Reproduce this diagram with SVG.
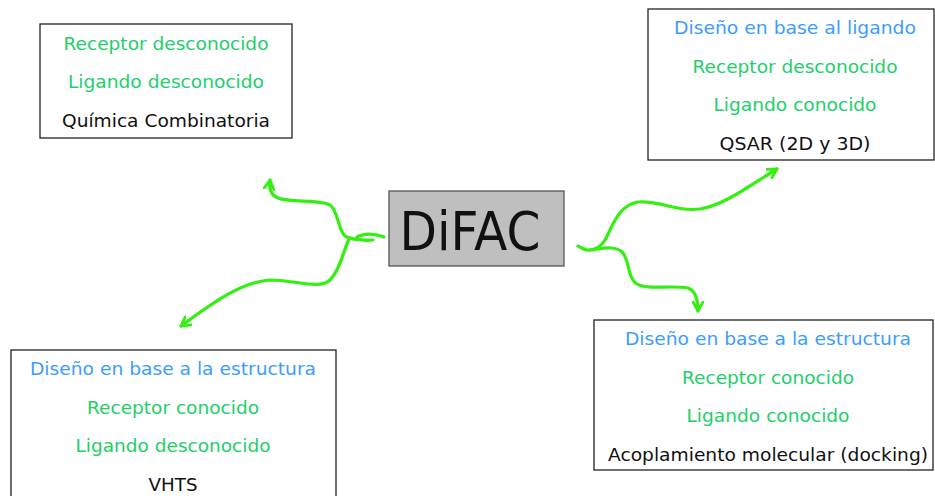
<svg xmlns="http://www.w3.org/2000/svg" width="935" height="496" viewBox="0 0 935 496">
<defs>
<style>
.box{fill:#fff;stroke:#222;stroke-width:1.3}
.t{font-family:"DejaVu Sans",Verdana,sans-serif;font-size:18.5px;text-anchor:middle}
.b{fill:#3d9dff}.g{fill:#1ecf6a}.k{fill:#111}
.c{fill:none;stroke:#33f010;stroke-width:3.2;stroke-linecap:round;stroke-linejoin:round}
</style>
<marker id="ah" viewBox="0 0 12 12" refX="10" refY="6" markerWidth="12" markerHeight="12" markerUnits="userSpaceOnUse" orient="auto">
<polyline points="1,1 10,6 1,11" fill="none" stroke="#33f010" stroke-width="2.8" stroke-linecap="round" stroke-linejoin="round"/>
</marker>
</defs>
<rect width="935" height="496" fill="#fff"/>
<g id="connectors">
<path class="c" d="M384,237 C376,234 367,233 359,236 C352,239 363,241 373,240 C362,240 352,240 345,236 C338,230 338,210 330,205 C320,199 290,203 278,198 C270,195 269,188 270,180" marker-end="url(#ah)"/>
<path class="c" d="M349,239 C343,252 340,270 330,280 C320,290 295,280 270,280 C240,282 210,305 181,326" marker-end="url(#ah)"/>
<path class="c" d="M578,246 C583,249 586,251 590,250 C598,249 602,245 605,240 C612,228 618,205 638,202 C660,200 675,212 700,209 C725,205 750,185 777,169" marker-end="url(#ah)"/>
<path class="c" d="M590,250 C600,249 615,245 622,252 C630,260 627,278 637,284 C647,290 670,285 688,288 C696,291 698,300 698,311" marker-end="url(#ah)"/>
</g>
<g id="center">
<rect x="389" y="191" width="175" height="75" fill="#bfbfbf" stroke="#555" stroke-width="1.3"/>
<text x="470" y="250" font-family="DejaVu Sans,Verdana,sans-serif" font-size="54" text-anchor="middle" fill="#111" textLength="141" lengthAdjust="spacingAndGlyphs">DiFAC</text>
</g>
<g id="top-left">
<rect class="box" x="40" y="24" width="252" height="114"/>
<text class="t g" x="166" y="50" textLength="205" lengthAdjust="spacingAndGlyphs">Receptor desconocido</text>
<text class="t g" x="166" y="88" textLength="196" lengthAdjust="spacingAndGlyphs">Ligando desconocido</text>
<text class="t k" x="166" y="127" textLength="208" lengthAdjust="spacingAndGlyphs">Química Combinatoria</text>
</g>
<g id="top-right">
<rect class="box" x="648" y="9" width="286" height="151"/>
<text class="t b" x="795" y="34" textLength="242" lengthAdjust="spacingAndGlyphs">Diseño en base al ligando</text>
<text class="t g" x="795" y="73" textLength="205" lengthAdjust="spacingAndGlyphs">Receptor desconocido</text>
<text class="t g" x="795" y="111" textLength="163" lengthAdjust="spacingAndGlyphs">Ligando conocido</text>
<text class="t k" x="795" y="150" textLength="151" lengthAdjust="spacingAndGlyphs">QSAR (2D y 3D)</text>
</g>
<g id="bottom-right">
<rect class="box" x="594" y="320" width="339" height="150"/>
<text class="t b" x="768" y="345" textLength="286" lengthAdjust="spacingAndGlyphs">Diseño en base a la estructura</text>
<text class="t g" x="768" y="384" textLength="172" lengthAdjust="spacingAndGlyphs">Receptor conocido</text>
<text class="t g" x="768" y="422" textLength="163" lengthAdjust="spacingAndGlyphs">Ligando conocido</text>
<text class="t k" x="768" y="461" textLength="320" lengthAdjust="spacingAndGlyphs">Acoplamiento molecular (docking)</text>
</g>
<g id="bottom-left">
<rect class="box" x="11" y="350" width="325" height="150"/>
<text class="t b" x="173" y="375" textLength="286" lengthAdjust="spacingAndGlyphs">Diseño en base a la estructura</text>
<text class="t g" x="173" y="414" textLength="172" lengthAdjust="spacingAndGlyphs">Receptor conocido</text>
<text class="t g" x="173" y="452" textLength="195" lengthAdjust="spacingAndGlyphs">Ligando desconocido</text>
<text class="t k" x="173" y="491" textLength="49" lengthAdjust="spacingAndGlyphs">VHTS</text>
</g>
</svg>
